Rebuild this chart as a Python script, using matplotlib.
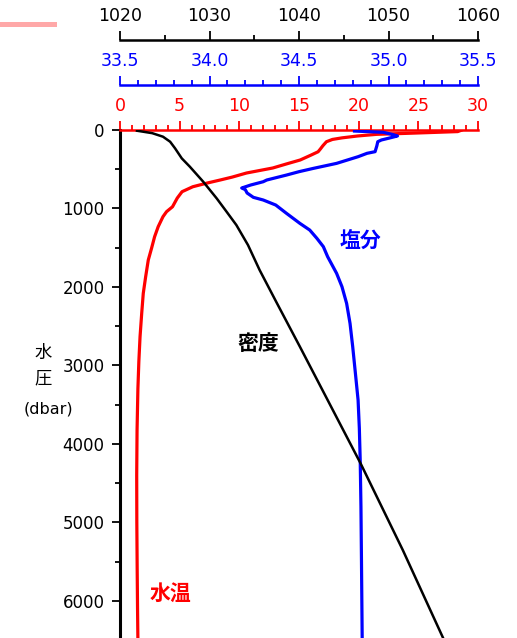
import numpy as np
import matplotlib
matplotlib.use('Agg')
import matplotlib.pyplot as plt
from matplotlib.patches import Rectangle

plt.rcParams['font.family'] = ['DejaVu Sans', 'Noto Sans CJK JP']

# temperature profile (degC vs dbar)
temp_p = [3, 20, 40, 55, 76, 100, 120, 149, 200, 240, 277, 320, 382, 430, 484, 548, 600,
          637, 676, 723, 786, 867, 978, 1041, 1105, 1232, 1360, 1504, 1657, 1870, 2082,
          2335, 2635, 2950, 3300, 3824, 4400, 5000, 5600, 6100, 6500]
temp_v = [28.6, 28.3, 24.5, 21.5, 19.9, 18.6, 17.8, 17.3, 17.0, 16.8, 16.6, 16.0, 15.1,
          14.0, 12.8, 10.6, 9.4, 8.4, 7.3, 6.1, 5.2, 4.8, 4.4, 3.9, 3.6, 3.2, 2.9, 2.65,
          2.37, 2.15, 1.95, 1.82, 1.68, 1.58, 1.5, 1.43, 1.4, 1.41, 1.44, 1.47, 1.5]

# salinity profile (psu vs dbar)
sal_p = [13, 29, 55, 76, 105, 127, 149, 200, 276, 297, 340, 425, 489, 531, 574, 637, 659,
         701, 739, 760, 803, 858, 892, 956, 1062, 1190, 1275, 1381, 1487, 1615, 1742, 1827,
         1997, 2210, 2464, 2762, 3100, 3442, 3800, 4219, 4800, 5500, 6500]
sal_v = [34.81, 34.97, 35.02, 35.05, 35.0, 34.96, 34.94, 34.935, 34.925, 34.88, 34.83,
         34.71, 34.58, 34.5, 34.43, 34.32, 34.3, 34.23, 34.18, 34.2, 34.21, 34.245, 34.3,
         34.37, 34.43, 34.505, 34.56, 34.6, 34.636, 34.66, 34.69, 34.71, 34.74, 34.766,
         34.785, 34.8, 34.815, 34.83, 34.837, 34.842, 34.846, 34.849, 34.853]

# density profile (kg/m3 vs dbar)
dens_p = [9, 40, 85, 149, 233, 361, 467, 659, 871, 1040, 1211, 1466, 1785, 2200, 2762,
          3442, 4254, 5355, 6500]
dens_v = [1021.9, 1023.6, 1024.8, 1025.6, 1026.15, 1026.9, 1027.8, 1029.3, 1030.8,
          1031.9, 1033.0, 1034.3, 1035.6, 1037.5, 1040.1, 1043.2, 1046.9, 1051.6, 1056.2]

fig = plt.figure(figsize=(5.17, 6.38), dpi=100)
ax = fig.add_axes([0.2321, 0.0, 0.6925, 0.7962])
ax_s = ax.twiny()
ax_d = ax.twiny()

ax.plot(temp_v, temp_p, color='red', lw=2.3)
ax_s.plot(sal_v, sal_p, color='blue', lw=2.3)
ax_d.plot(dens_v, dens_p, color='black', lw=1.8)

ax.set_ylim(6475, 0)
ax.set_xlim(0, 30)
ax_s.set_xlim(33.5, 35.5)
ax_d.set_xlim(1020, 1060)

for a in (ax, ax_s, ax_d):
    for s in ('bottom', 'right'):
        a.spines[s].set_visible(False)
for a in (ax_s, ax_d):
    a.spines['left'].set_visible(False)

ax.spines['left'].set_linewidth(2.2)
ax.spines['top'].set_color('red')
ax.spines['top'].set_linewidth(1.8)
ax_s.spines['top'].set_position(('outward', 32.4))
ax_s.spines['top'].set_color('blue')
ax_s.spines['top'].set_linewidth(1.8)
ax_d.spines['top'].set_position(('outward', 64.8))
ax_d.spines['top'].set_color('black')
ax_d.spines['top'].set_linewidth(1.8)

ax.xaxis.set_ticks_position('top')
ax.xaxis.set_label_position('top')
ax.set_xticks(np.arange(0, 31, 5))
ax.set_xticks(np.arange(0, 31, 1), minor=True)
ax.tick_params(axis='x', which='both', colors='red', width=1.3, labelsize=12.5, pad=4)
ax.tick_params(axis='x', which='major', length=6.5)
ax.tick_params(axis='x', which='minor', length=3.6)

ax_s.set_xticks(np.arange(33.5, 35.51, 0.5))
ax_s.set_xticklabels(['33.5', '34.0', '34.5', '35.0', '35.5'])
ax_s.set_xticks(np.arange(33.5, 35.51, 0.1), minor=True)
ax_s.tick_params(axis='x', which='both', colors='blue', width=1.3, labelsize=12.5, pad=4)
ax_s.tick_params(axis='x', which='major', length=6.5)
ax_s.tick_params(axis='x', which='minor', length=3.6)

ax_d.set_xticks(np.arange(1020, 1061, 10))
ax_d.set_xticks(np.arange(1020, 1061, 5), minor=True)
ax_d.tick_params(axis='x', which='both', colors='black', width=1.3, labelsize=12.5, pad=4)
ax_d.tick_params(axis='x', which='major', length=6.5)
ax_d.tick_params(axis='x', which='minor', length=3.6)

ax.set_yticks(np.arange(0, 6001, 1000))
ax.set_yticks(np.arange(0, 6500, 500), minor=True)
ax.tick_params(axis='y', which='both', width=1.3, labelsize=12, pad=5)
ax.tick_params(axis='y', which='major', length=6)
ax.tick_params(axis='y', which='minor', length=3.6)

jp = ['Noto Sans CJK JP', 'DejaVu Sans']
fig.text(43 / 517, 1 - 353 / 638, '水', family=jp, fontsize=12.5, ha='center', va='center')
fig.text(43 / 517, 1 - 378 / 638, '圧', family=jp, fontsize=12.5, ha='center', va='center')
fig.text(48 / 517, 1 - 409 / 638, '(dbar)', fontsize=11.5, ha='center', va='center')

fig.text(360 / 517, 1 - 240 / 638, '塩分', family=jp, fontsize=15, fontweight='bold',
         color='blue', ha='center', va='center')
fig.text(258 / 517, 1 - 343 / 638, '密度', family=jp, fontsize=15, fontweight='bold',
         color='black', ha='center', va='center')
fig.text(170 / 517, 1 - 593 / 638, '水温', family=jp, fontsize=15, fontweight='bold',
         color='red', ha='center', va='center')

fig.patches.append(Rectangle((0, 1 - 27 / 638), 57 / 517, 5 / 638, transform=fig.transFigure,
                             facecolor='#ffa8a8', edgecolor='none'))

fig.savefig('out.png', dpi=100)
